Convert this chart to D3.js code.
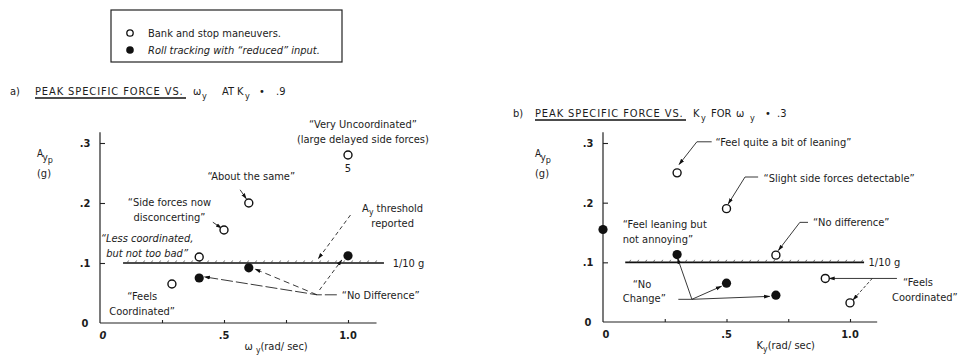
<!DOCTYPE html>
<html>
<head>
<meta charset="utf-8">
<script src="https://cdn.jsdelivr.net/npm/d3@7.9.0/dist/d3.min.js"></script>
<style>
  body { margin: 0; background: #fff; }
  svg text {
    font-family: "Liberation Sans Narrow", "DejaVu Sans Condensed", "Arial Narrow", sans-serif;
    font-size: 11px;
    fill: #1c1c1c;
  }
</style>
</head>
<body>
<svg width="962" height="359"></svg>
<script>
// ---- data ----
const legendLabels = ['Bank and stop maneuvers.', 'Roll tracking with \u201creduced\u201d input.'];

const aOpenX = [0.29, 0.40, 0.50, 0.60, 1.00];
const aOpenY = [0.065, 0.110, 0.155, 0.200, 0.280];
const aFilledX = [0.40, 0.60, 1.00];
const aFilledY = [0.075, 0.092, 0.112];

const bOpenX = [0.30, 0.50, 0.70, 0.90, 1.00];
const bOpenY = [0.250, 0.190, 0.112, 0.073, 0.032];
const bFilledX = [0.00, 0.30, 0.50, 0.70];
const bFilledY = [0.155, 0.113, 0.065, 0.045];

const yTicks = [0, 0.1, 0.2, 0.3];
const yTickLabels = ['0', '.1', '.2', '.3'];
const xTicks = [0, 0.5, 1.0];
const xTickLabels = ['0', '.5', '1.0'];
const xMinorTicks = [0.25, 0.75];
const threshold = 0.1;
const thresholdLabel = '1/10 g';

let svg = d3.select('svg');

svg.append('defs').append('marker')
  .attr('id', 'arrow')
  .attr('viewBox', '0 0 10 10')
  .attr('refX', 9).attr('refY', 5)
  .attr('markerWidth', 7).attr('markerHeight', 7)
  .attr('orient', 'auto-start-reverse')
  .append('path')
  .attr('d', 'M0,2 L10,5 L0,8 Z')
  .attr('fill', '#111');

// text with "_y" style subscripts
function richText(sel, str) {
  let parts = str.split(/(_.)/).filter(s => s.length);
  let down = false;
  parts.forEach(s => {
    if (s[0] === '_') {
      sel.append('tspan').attr('dy', 3).attr('font-size', '8.5px').text(s[1]);
      down = true;
    } else {
      sel.append('tspan').attr('dy', down ? -3 : null).text(s);
      down = false;
    }
  });
}

// ---- legend ----
let legend = svg.append('g');
legend.append('rect')
  .attr('x', 111).attr('y', 10).attr('width', 231).attr('height', 52)
  .attr('fill', 'none').attr('stroke', '#222').attr('stroke-width', 1.2);
legend.append('circle').attr('cx', 130).attr('cy', 33).attr('r', 3.2)
  .attr('fill', '#fff').attr('stroke', '#111').attr('stroke-width', 1.3);
legend.append('circle').attr('cx', 130).attr('cy', 50).attr('r', 3.8).attr('fill', '#111');
legend.append('text').attr('x', 148).attr('y', 37).text(legendLabels[0]);
legend.append('text').attr('x', 148).attr('y', 54).attr('font-style', 'italic').text(legendLabels[1]);

// ---- panel titles ----
function title(y, pieces, ul) {
  let t = svg.append('text').attr('y', y);
  pieces.forEach(p => {
    t.append('tspan')
      .attr('x', p.x)
      .attr('y', p.sub ? y + 4 : y)
      .attr('font-size', p.sub ? '9px' : null)
      .attr('letter-spacing', p.ls || null)
      .text(p.t);
  });
  svg.append('line')
    .attr('x1', ul[0]).attr('x2', ul[1])
    .attr('y1', y + 3).attr('y2', y + 3)
    .attr('stroke', '#111').attr('stroke-width', 1.4);
}

title(95, [
  { t: 'a)', x: 10 }, { t: 'PEAK SPECIFIC FORCE VS.', x: 35, ls: 0.9 },
  { t: '\u03c9', x: 193 }, { t: 'y', x: 202, sub: true }, { t: 'AT', x: 222 },
  { t: 'K', x: 237 }, { t: 'y', x: 245, sub: true }, { t: '\u2022', x: 259 }, { t: '.9', x: 276 }
], [35, 186]);

title(117, [
  { t: 'b)', x: 513 }, { t: 'PEAK SPECIFIC FORCE VS.', x: 535, ls: 0.9 },
  { t: 'K', x: 693 }, { t: 'y', x: 701, sub: true }, { t: 'FOR', x: 711 },
  { t: '\u03c9', x: 736 }, { t: 'y', x: 750, sub: true }, { t: '\u2022', x: 765 }, { t: '.3', x: 777 }
], [535, 686]);

// ---- panels ----
const panels = [
  {
    xRange: [100, 348], yRange: [323, 143], xMax: 1.115, yMax: 0.318,
    openX: aOpenX, openY: aOpenY, filledX: aFilledX, filledY: aFilledY,
    thr: [0.093, 1.145], thrLabelX: 1.18,
    xTitle: '\u03c9 _y(rad/ sec)', xTitleAt: 0.71, zeroItalic: true,
    yTitleX: 37, yTitleY: 157,
    notes: [
      { lines: ['\u201cVery Uncoordinated\u201d', '(large delayed side forces)'], x: 1.06, y: 0.325, anchor: 'middle' },
      { lines: ['5'], x: 1.0, y: 0.252, anchor: 'middle' },
      { lines: ['\u201cAbout the same\u201d'], x: 0.61, y: 0.238, anchor: 'middle' },
      { lines: ['\u201cSide forces now', 'disconcerting\u201d'], x: 0.28, y: 0.195, anchor: 'middle' },
      { lines: ['\u201cLess coordinated,', 'but not too bad\u201d'], x: 0.19, y: 0.135, anchor: 'middle', italic: true },
      { lines: ['\u201cFeels', 'Coordinated\u201d'], x: 0.17, y: 0.038, anchor: 'middle' },
      { lines: ['A_y threshold', 'reported'], x: 1.18, y: 0.185, anchor: 'middle' },
      { lines: ['\u201cNo Difference\u201d'], x: 0.975, y: 0.04, anchor: 'start' }
    ],
    leaders: [
      { pts: [[0.565, 0.222], [0.59, 0.207]], arrow: true },
      { pts: [[0.455, 0.168], [0.49, 0.158]], arrow: true },
      { pts: [[1.01, 0.18], [0.88, 0.107]], arrow: true, dash: '4,3' },
      { pts: [[0.955, 0.047], [0.875, 0.047], [0.42, 0.077]], arrow: true, dash: '12,3' },
      { pts: [[0.875, 0.047], [0.625, 0.09]], arrow: true, dash: '6,4' },
      { pts: [[0.885, 0.055], [0.975, 0.105]], arrow: true, dash: '4,3' }
    ]
  },
  {
    xRange: [603, 850], yRange: [322, 143], xMax: 1.11, yMax: 0.318,
    openX: bOpenX, openY: bOpenY, filledX: bFilledX, filledY: bFilledY,
    thr: [0.09, 1.057], thrLabelX: 1.075,
    xTitle: 'K_y(rad/ sec)', xTitleAt: 0.74, zeroItalic: false,
    yTitleX: 535, yTitleY: 157,
    notes: [
      { lines: ['\u201cFeel quite a bit of leaning\u201d'], x: 0.455, y: 0.295, anchor: 'start' },
      { lines: ['\u201cSlight side forces detectable\u201d'], x: 0.65, y: 0.235, anchor: 'start' },
      { lines: ['\u201cFeel leaning but', 'not annoying\u201d'], x: 0.08, y: 0.157, anchor: 'start' },
      { lines: ['\u201cNo difference\u201d'], x: 0.85, y: 0.161, anchor: 'start' },
      { lines: ['\u201cNo', 'Change\u201d'], x: 0.08, y: 0.057, anchor: 'start', dx: [10, 0] },
      { lines: ['\u201cFeels', 'Coordinated\u201d'], x: 1.17, y: 0.06, anchor: 'start', dx: [11, 0] }
    ],
    leaders: [
      { pts: [[0.44, 0.302], [0.38, 0.302], [0.308, 0.264]], arrow: true },
      { pts: [[0.628, 0.243], [0.575, 0.243], [0.507, 0.198]], arrow: true },
      { pts: [[0.83, 0.167], [0.797, 0.167], [0.71, 0.12]], arrow: true },
      { pts: [[0.305, 0.038], [0.36, 0.038], [0.302, 0.107]], arrow: true },
      { pts: [[0.36, 0.038], [0.48, 0.06]], arrow: true },
      { pts: [[0.36, 0.038], [0.675, 0.043]], arrow: true },
      { pts: [[1.19, 0.073], [0.915, 0.073]], arrow: true },
      { pts: [[1.09, 0.073], [1.012, 0.037]], arrow: true, dash: '3,2' }
    ]
  }
];

panels.forEach(drawPanel);

function drawPanel(p) {
  let g = svg.append('g');
  let x = d3.scaleLinear().domain([0, 1]).range(p.xRange);
  let y = d3.scaleLinear().domain([0, 0.3]).range(p.yRange);

  // y axis
  g.append('line')
    .attr('x1', x(0)).attr('x2', x(0))
    .attr('y1', y(0)).attr('y2', y(p.yMax))
    .attr('stroke', '#222').attr('stroke-width', 1.2);
  g.append('g')
    .attr('transform', `translate(${x(0)},0)`)
    .call(d3.axisLeft(y).tickValues(yTicks.slice(1)).tickSizeInner(-5).tickSizeOuter(0).tickFormat(() => ''))
    .call(a => a.select('.domain').remove())
    .call(a => a.selectAll('line').attr('stroke', '#222').attr('stroke-width', 1.1));
  g.selectAll('.ylab')
    .data(yTicks)
    .join('text')
    .attr('x', x(0) - 15)
    .attr('y', d => y(d) + 4)
    .attr('text-anchor', 'middle')
    .attr('font-weight', 'bold')
    .text((d, i) => yTickLabels[i]);

  // x axis
  g.append('line')
    .attr('x1', x(0)).attr('x2', x(p.xMax))
    .attr('y1', y(0)).attr('y2', y(0))
    .attr('stroke', '#222').attr('stroke-width', 1.2);
  g.append('g')
    .attr('transform', `translate(0,${y(0)})`)
    .call(d3.axisBottom(x).tickValues(xMinorTicks.concat(xTicks.slice(1))).tickSizeInner(-3).tickSizeOuter(0).tickFormat(() => ''))
    .call(a => a.select('.domain').remove())
    .call(a => a.selectAll('line').attr('stroke', '#222').attr('stroke-width', 1.1));
  g.selectAll('.xlab')
    .data(xTicks)
    .join('text')
    .attr('x', d => x(d) + (d === 0 ? 3 : 0))
    .attr('y', y(0) + 16)
    .attr('text-anchor', 'middle')
    .attr('font-weight', 'bold')
    .attr('font-style', (d, i) => (i === 0 && p.zeroItalic) ? 'italic' : null)
    .text((d, i) => xTickLabels[i]);

  let xt = g.append('text')
    .attr('x', x(p.xTitleAt)).attr('y', y(0) + 27)
    .attr('text-anchor', 'middle');
  richText(xt, p.xTitle);

  // y title
  let yt = g.append('text').attr('x', p.yTitleX).attr('y', p.yTitleY);
  yt.append('tspan').attr('font-size', '10px').text('A');
  yt.append('tspan').attr('dy', 4).attr('font-size', '10px').text('y');
  yt.append('tspan').attr('dy', 1.5).attr('font-size', '9px').text('p');
  g.append('text').attr('x', p.yTitleX).attr('y', p.yTitleY + 20).text('(g)');

  // threshold line with hatching
  g.append('line')
    .attr('x1', x(p.thr[0])).attr('x2', x(p.thr[1]))
    .attr('y1', y(threshold)).attr('y2', y(threshold))
    .attr('stroke', '#111').attr('stroke-width', 1.6);
  g.selectAll('.hatch')
    .data(d3.range(x(p.thr[0]) + 4, x(p.thr[1]) - 2, 8))
    .join('line')
    .attr('x1', d => d).attr('x2', d => d + 1.5)
    .attr('y1', y(threshold)).attr('y2', y(threshold) - 2.5)
    .attr('stroke', '#444').attr('stroke-width', 0.8);
  g.append('text')
    .attr('x', x(p.thrLabelX)).attr('y', y(threshold) + 4)
    .text(thresholdLabel);

  // leaders
  let line = d3.line().x(d => x(d[0])).y(d => y(d[1]));
  g.selectAll('.leader')
    .data(p.leaders)
    .join('path')
    .attr('d', d => line(d.pts))
    .attr('fill', 'none')
    .attr('stroke', '#222')
    .attr('stroke-width', 0.9)
    .attr('stroke-dasharray', d => d.dash || null)
    .attr('marker-end', d => d.arrow ? 'url(#arrow)' : null);

  // points
  g.selectAll('.open')
    .data(p.openX.map((v, i) => [v, p.openY[i]]))
    .join('circle')
    .attr('cx', d => x(d[0])).attr('cy', d => y(d[1]))
    .attr('r', 4)
    .attr('fill', '#fff').attr('stroke', '#111').attr('stroke-width', 1.4);
  g.selectAll('.filled')
    .data(p.filledX.map((v, i) => [v, p.filledY[i]]))
    .join('circle')
    .attr('cx', d => x(d[0])).attr('cy', d => y(d[1]))
    .attr('r', 4.6)
    .attr('fill', '#111');

  // annotation texts
  p.notes.forEach(n => {
    let t = g.append('text')
      .attr('text-anchor', n.anchor)
      .attr('font-style', n.italic ? 'italic' : null);
    n.lines.forEach((l, i) => {
      let off = n.dx ? n.dx[i] : 0;
      let line = t.append('tspan').attr('x', x(n.x) + off).attr('y', y(n.y) + i * 14.5);
      richText(line, l);
    });
  });
}
</script>
</body>
</html>
